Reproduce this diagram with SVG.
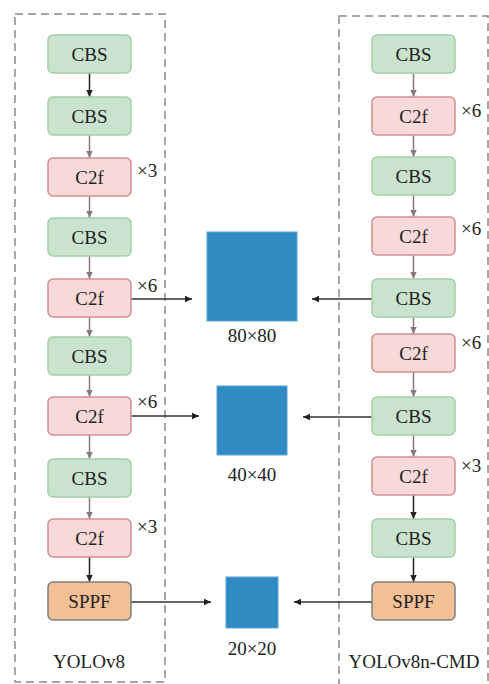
<svg xmlns="http://www.w3.org/2000/svg" width="489" height="684" viewBox="0 0 489 684">
<defs>
<style>
.frame{fill:none;stroke:#8a8a8a;stroke-width:1.5;stroke-dasharray:8 5}
.cbs{fill:#cae3cf;stroke:#a3cfa6;stroke-width:1.5}
.c2f{fill:#f8d9d9;stroke:#d38f8f;stroke-width:1.5}
.sppf{fill:#f3bf95;stroke:#7f7f7f;stroke-width:1.5}
.sq{fill:#2f8bc1;stroke:#5aa6d3;stroke-width:1}
text{font-family:"Liberation Serif","Times New Roman",serif;fill:#222}
.lbl{font-size:19px;text-anchor:middle}
.mul{font-size:19px}
.cm{stroke:#8a7880;stroke-width:1.5;fill:none;marker-end:url(#am)}
.ck{stroke:#222;stroke-width:1.5;fill:none;marker-end:url(#ak)}
.ch{stroke:#333;stroke-width:1.3;fill:none;marker-end:url(#ak)}
</style>
<marker id="am" markerWidth="8" markerHeight="8" refX="7" refY="4" orient="auto" markerUnits="userSpaceOnUse"><path d="M0,0.8 L7,4 L0,7.2 Z" fill="#8a7880"/></marker>
<marker id="ak" markerWidth="8" markerHeight="8" refX="7" refY="4" orient="auto" markerUnits="userSpaceOnUse"><path d="M0,0.8 L7,4 L0,7.2 Z" fill="#222"/></marker>
</defs>
<rect width="489" height="684" fill="#fff"/>
<rect class="frame" x="15" y="14" width="150" height="668"/>
<rect class="frame" x="339" y="16" width="149" height="674"/>

<g id="connectors">
<line class="ck" x1="89.5" y1="73" x2="89.5" y2="97"/>
<line class="cm" x1="89.5" y1="135" x2="89.5" y2="158"/>
<line class="cm" x1="89.5" y1="196" x2="89.5" y2="218"/>
<line class="cm" x1="89.5" y1="256" x2="89.5" y2="279"/>
<line class="cm" x1="89.5" y1="317" x2="89.5" y2="337"/>
<line class="cm" x1="89.5" y1="375" x2="89.5" y2="397"/>
<line class="cm" x1="89.5" y1="435" x2="89.5" y2="459"/>
<line class="cm" x1="89.5" y1="497" x2="89.5" y2="519"/>
<line class="ck" x1="89.5" y1="557" x2="89.5" y2="582"/>
<line class="cm" x1="413.5" y1="73" x2="413.5" y2="97"/>
<line class="cm" x1="413.5" y1="135" x2="413.5" y2="157"/>
<line class="cm" x1="413.5" y1="195" x2="413.5" y2="217"/>
<line class="cm" x1="413.5" y1="255" x2="413.5" y2="279"/>
<line class="cm" x1="413.5" y1="317" x2="413.5" y2="334"/>
<line class="cm" x1="413.5" y1="372" x2="413.5" y2="397"/>
<line class="cm" x1="413.5" y1="435" x2="413.5" y2="457"/>
<line class="ck" x1="413.5" y1="495" x2="413.5" y2="519"/>
<line class="ck" x1="413.5" y1="557" x2="413.5" y2="582"/>
<line class="ch" x1="131" y1="299" x2="192" y2="299"/>
<line class="ch" x1="372" y1="299" x2="312" y2="299"/>
<line class="ch" x1="131" y1="416" x2="199" y2="416"/>
<line class="ch" x1="372" y1="417" x2="303" y2="417"/>
<line class="ch" x1="131" y1="602" x2="211" y2="602"/>
<line class="ch" x1="372" y1="602" x2="294" y2="602"/>
</g>

<g id="l1"><rect class="cbs" x="48" y="35" width="83" height="38" rx="5"/><text class="lbl" x="89.5" y="61">CBS</text></g>
<g id="l2"><rect class="cbs" x="48" y="97" width="83" height="38" rx="5"/><text class="lbl" x="89.5" y="123">CBS</text></g>
<g id="l3"><rect class="c2f" x="48" y="158" width="83" height="38" rx="5"/><text class="lbl" x="89.5" y="184">C2f</text><text class="mul" x="137" y="177">×3</text></g>
<g id="l4"><rect class="cbs" x="48" y="218" width="83" height="38" rx="5"/><text class="lbl" x="89.5" y="244">CBS</text></g>
<g id="l5"><rect class="c2f" x="48" y="279" width="83" height="38" rx="5"/><text class="lbl" x="89.5" y="305">C2f</text><text class="mul" x="137" y="292">×6</text></g>
<g id="l6"><rect class="cbs" x="48" y="337" width="83" height="38" rx="5"/><text class="lbl" x="89.5" y="363">CBS</text></g>
<g id="l7"><rect class="c2f" x="48" y="397" width="83" height="38" rx="5"/><text class="lbl" x="89.5" y="423">C2f</text><text class="mul" x="137" y="408">×6</text></g>
<g id="l8"><rect class="cbs" x="48" y="459" width="83" height="38" rx="5"/><text class="lbl" x="89.5" y="485">CBS</text></g>
<g id="l9"><rect class="c2f" x="48" y="519" width="83" height="38" rx="5"/><text class="lbl" x="89.5" y="545">C2f</text><text class="mul" x="137" y="533">×3</text></g>
<g id="l10"><rect class="sppf" x="48" y="582" width="83" height="38" rx="5"/><text class="lbl" x="89.5" y="608">SPPF</text></g>
<g id="label-yolov8"><text class="lbl" x="89" y="668">YOLOv8</text></g>

<g id="r1"><rect class="cbs" x="372" y="35" width="83" height="38" rx="5"/><text class="lbl" x="413.5" y="61">CBS</text></g>
<g id="r2"><rect class="c2f" x="372" y="97" width="83" height="38" rx="5"/><text class="lbl" x="413.5" y="123">C2f</text><text class="mul" x="461" y="117">×6</text></g>
<g id="r3"><rect class="cbs" x="372" y="157" width="83" height="38" rx="5"/><text class="lbl" x="413.5" y="183">CBS</text></g>
<g id="r4"><rect class="c2f" x="372" y="217" width="83" height="38" rx="5"/><text class="lbl" x="413.5" y="243">C2f</text><text class="mul" x="461" y="235">×6</text></g>
<g id="r5"><rect class="cbs" x="372" y="279" width="83" height="38" rx="5"/><text class="lbl" x="413.5" y="305">CBS</text></g>
<g id="r6"><rect class="c2f" x="372" y="334" width="83" height="38" rx="5"/><text class="lbl" x="413.5" y="360">C2f</text><text class="mul" x="461" y="349">×6</text></g>
<g id="r7"><rect class="cbs" x="372" y="397" width="83" height="38" rx="5"/><text class="lbl" x="413.5" y="423">CBS</text></g>
<g id="r8"><rect class="c2f" x="372" y="457" width="83" height="38" rx="5"/><text class="lbl" x="413.5" y="483">C2f</text><text class="mul" x="461" y="472">×3</text></g>
<g id="r9"><rect class="cbs" x="372" y="519" width="83" height="38" rx="5"/><text class="lbl" x="413.5" y="545">CBS</text></g>
<g id="r10"><rect class="sppf" x="372" y="582" width="83" height="38" rx="5"/><text class="lbl" x="413.5" y="608">SPPF</text></g>
<g id="label-cmd"><text class="lbl" x="414" y="668">YOLOv8n-CMD</text></g>

<g id="f80"><rect class="sq" x="207" y="232" width="90" height="89"/><text class="lbl" x="252" y="342">80×80</text></g>
<g id="f40"><rect class="sq" x="217" y="386" width="70" height="69"/><text class="lbl" x="252" y="481">40×40</text></g>
<g id="f20"><rect class="sq" x="226" y="577" width="52" height="51"/><text class="lbl" x="252" y="655">20×20</text></g>
</svg>
